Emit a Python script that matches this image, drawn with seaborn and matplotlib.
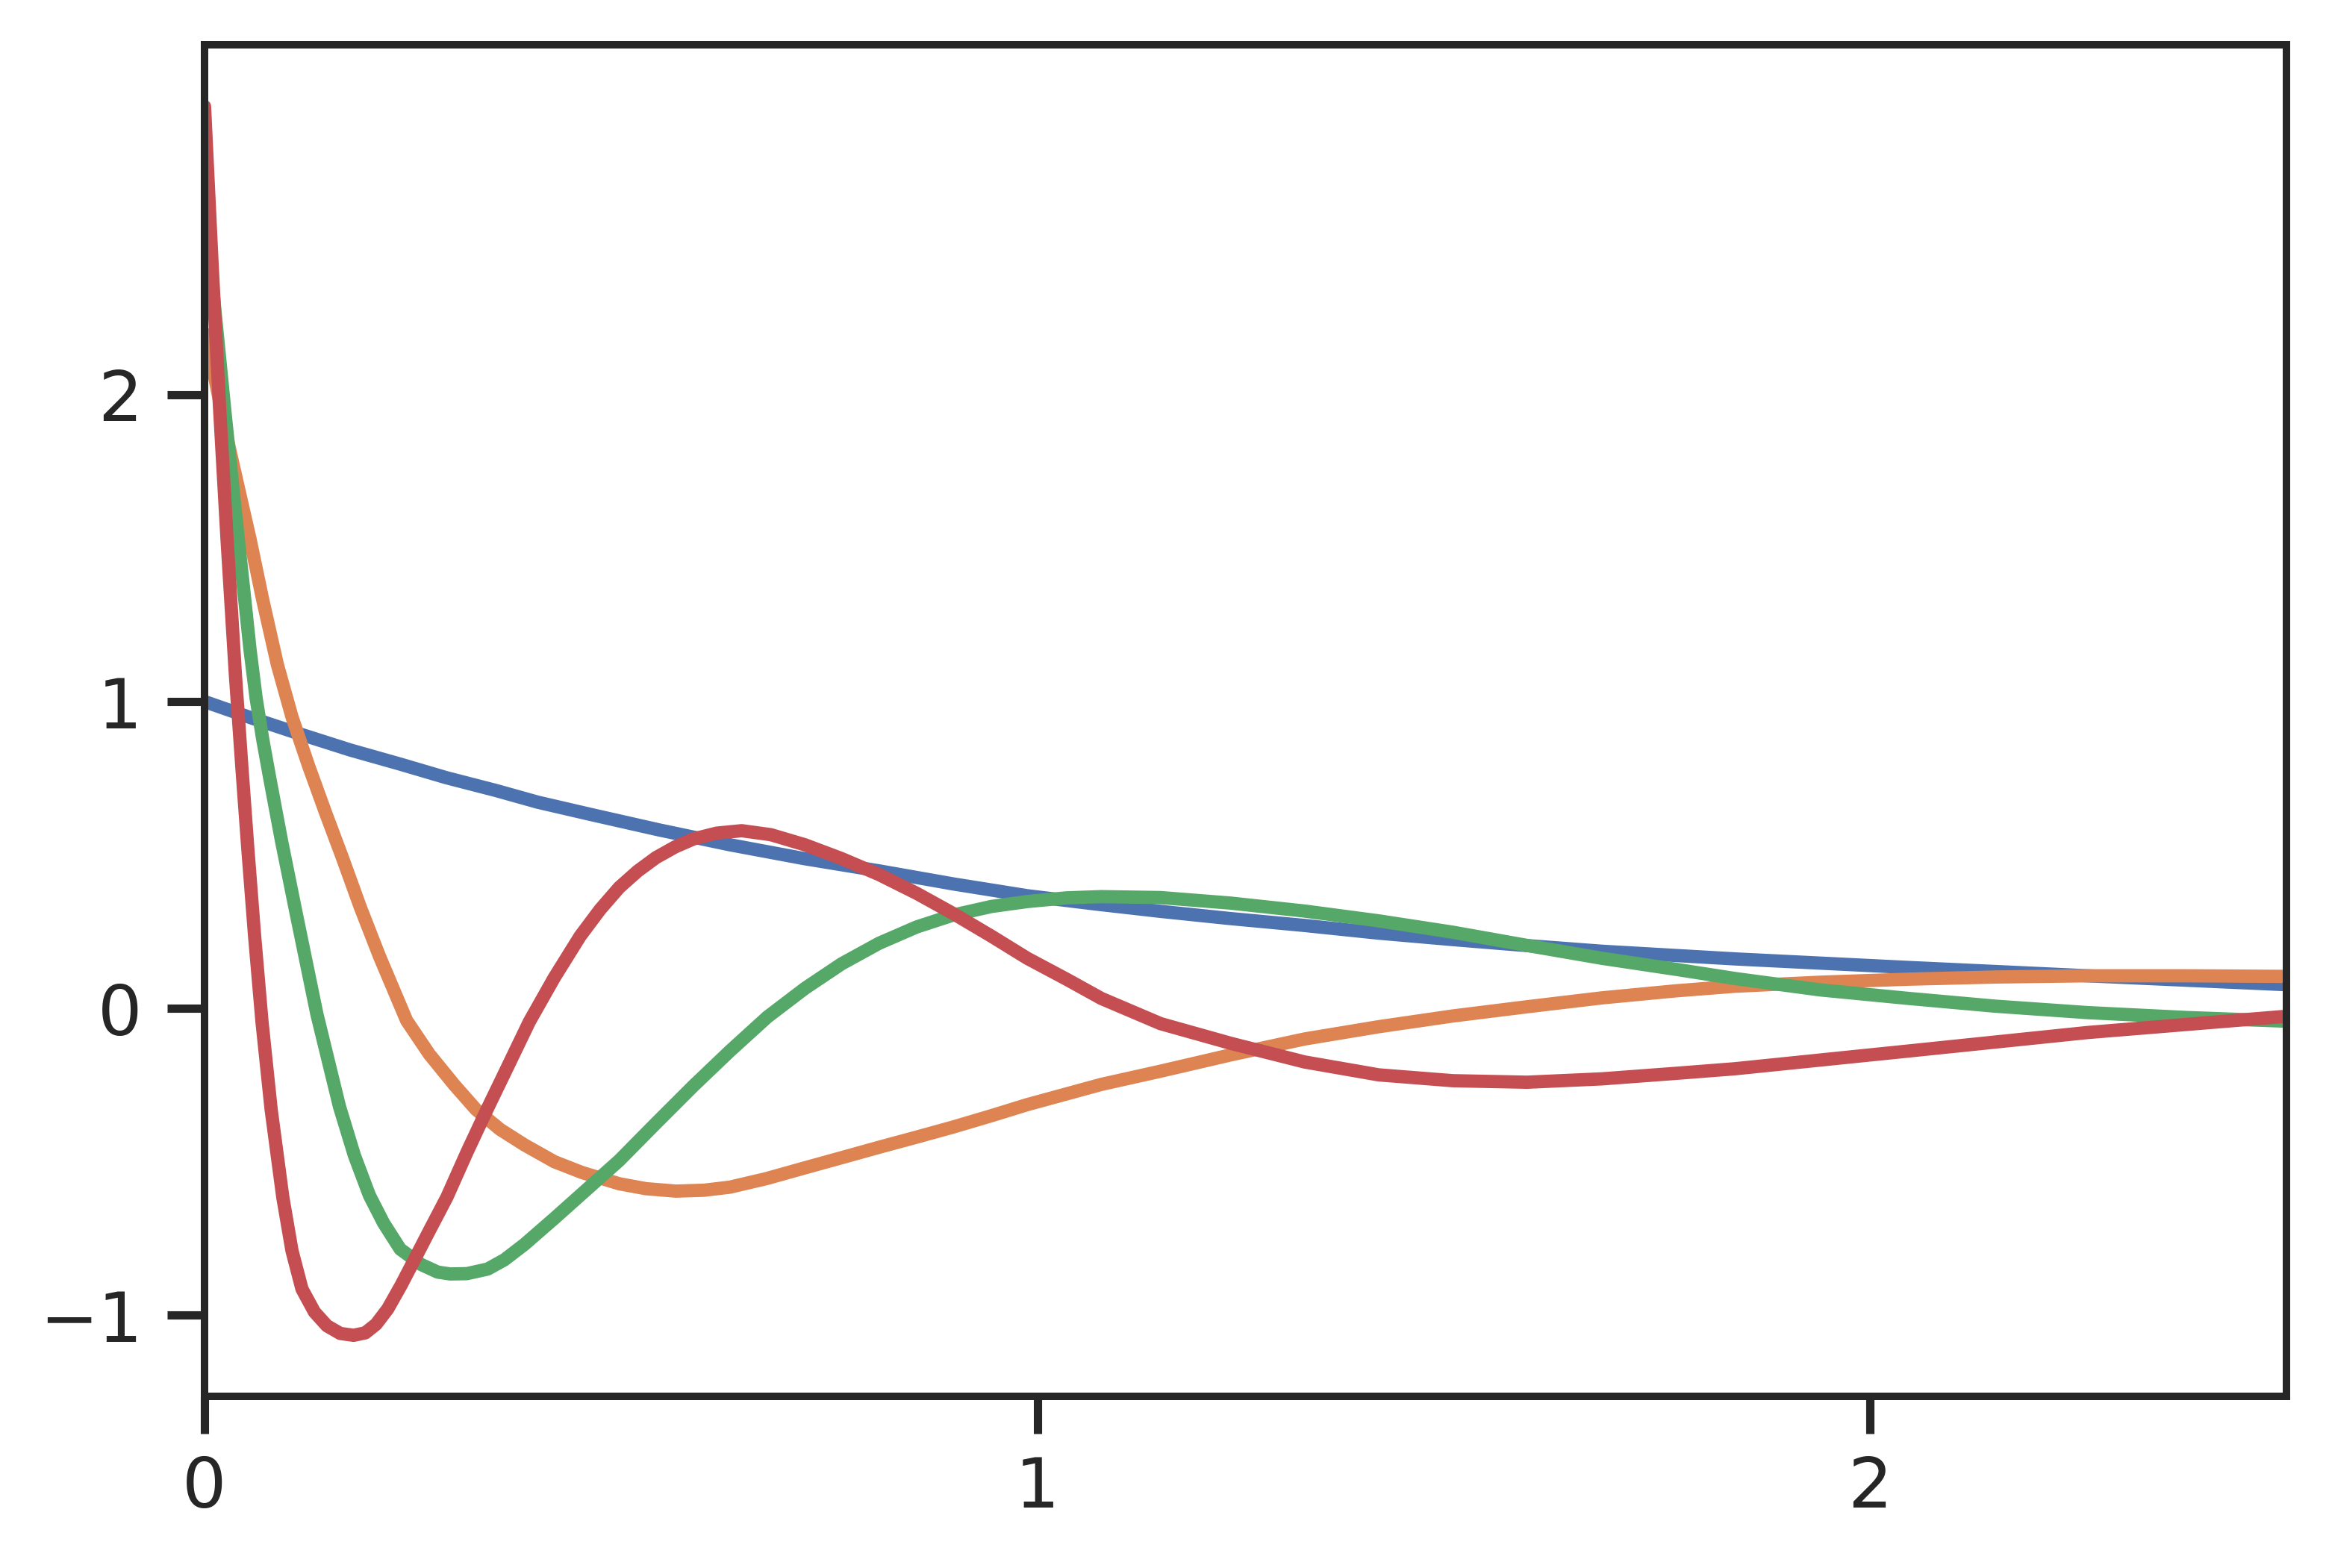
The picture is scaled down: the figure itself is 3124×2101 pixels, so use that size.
import numpy as np
import matplotlib
matplotlib.use("Agg")
import matplotlib.pyplot as plt
import seaborn as sns

# values
blue_x = [0, 0.058, 0.116, 0.175, 0.235, 0.29, 0.35, 0.40, 0.462, 0.545, 0.631, 0.72, 0.810, 0.9,
          0.988, 1.07, 1.148, 1.23, 1.321, 1.41, 1.499, 1.59, 1.678, 1.838, 2.047, 2.261, 2.5]
blue_y = [1.0, 0.945, 0.893, 0.842, 0.796, 0.752, 0.71, 0.672, 0.633, 0.582, 0.533, 0.488, 0.448, 0.405,
          0.367, 0.34, 0.316, 0.293, 0.27, 0.245, 0.224, 0.204, 0.186, 0.161, 0.133, 0.106, 0.077]

orange_x = [0, 0.012, 0.027, 0.042, 0.0546, 0.07, 0.0875, 0.105, 0.125, 0.145, 0.1657, 0.187, 0.21,
            0.2427, 0.27, 0.30, 0.326, 0.355, 0.384, 0.42, 0.453, 0.498, 0.53, 0.566, 0.60, 0.631,
            0.675, 0.721, 0.765, 0.810, 0.855, 0.899, 0.945, 0.988, 1.077, 1.148, 1.232, 1.321, 1.41,
            1.499, 1.588, 1.678, 1.767, 1.838, 1.94, 2.047, 2.15, 2.261, 2.38, 2.5]
orange_y = [2.2, 2.06, 1.86, 1.68, 1.53, 1.33, 1.12, 0.95, 0.79, 0.64, 0.49, 0.33, 0.17,
            -0.04, -0.15, -0.25, -0.33, -0.395, -0.445, -0.50, -0.535, -0.572, -0.588, -0.596, -0.593, -0.583,
            -0.555, -0.52, -0.487, -0.453, -0.42, -0.387, -0.35, -0.314, -0.248, -0.205, -0.152, -0.100, -0.06,
            -0.025, 0.005, 0.034, 0.057, 0.072, 0.085, 0.095, 0.102, 0.106, 0.106, 0.104]

green_x = [0, 0.013, 0.025, 0.0405, 0.048, 0.0546, 0.062, 0.07, 0.078, 0.0925, 0.11, 0.135, 0.162, 0.18,
           0.198, 0.215, 0.235, 0.26, 0.28, 0.295, 0.315, 0.34, 0.36, 0.384, 0.42, 0.453, 0.498, 0.542,
           0.587, 0.631, 0.676, 0.721, 0.765, 0.810, 0.855, 0.899, 0.945, 0.988, 1.035, 1.077, 1.148,
           1.232, 1.321, 1.41, 1.499, 1.588, 1.678, 1.767, 1.838, 1.94, 2.047, 2.15, 2.261, 2.38, 2.5]
green_y = [2.62, 2.26, 1.93, 1.53, 1.34, 1.17, 1.01, 0.875, 0.755, 0.545, 0.31, -0.02, -0.32, -0.48,
           -0.61, -0.70, -0.785, -0.835, -0.86, -0.866, -0.865, -0.85, -0.82, -0.77, -0.685, -0.605, -0.496, -0.375,
           -0.253, -0.139, -0.028, 0.065, 0.145, 0.212, 0.265, 0.304, 0.332, 0.348, 0.36, 0.364, 0.361,
           0.343, 0.317, 0.285, 0.248, 0.205, 0.163, 0.127, 0.097, 0.06, 0.032, 0.007, -0.014, -0.03, -0.042]

red_x = [0, 0.009, 0.018, 0.027, 0.037, 0.045, 0.052, 0.06, 0.069, 0.08, 0.094, 0.105, 0.117, 0.132,
         0.147, 0.163, 0.179, 0.193, 0.206, 0.22, 0.236, 0.25, 0.27, 0.291, 0.315, 0.339, 0.365, 0.390,
         0.42, 0.451, 0.475, 0.498, 0.52, 0.542, 0.565, 0.587, 0.615, 0.645, 0.68, 0.721, 0.765, 0.810,
         0.855, 0.899, 0.945, 0.988, 1.035, 1.077, 1.148, 1.232, 1.321, 1.410, 1.499, 1.588, 1.678,
         1.767, 1.838, 2.047, 2.261, 2.5]
red_y = [2.94, 2.43, 1.96, 1.53, 1.09, 0.78, 0.52, 0.24, -0.044, -0.33, -0.616, -0.79, -0.915, -0.99,
         -1.035, -1.06, -1.066, -1.058, -1.03, -0.98, -0.903, -0.83, -0.725, -0.616, -0.47, -0.331, -0.185, -0.044,
         0.10, 0.235, 0.322, 0.394, 0.447, 0.491, 0.526, 0.552, 0.571, 0.579, 0.566, 0.533, 0.488, 0.436,
         0.375, 0.309, 0.235, 0.163, 0.095, 0.032, -0.05, -0.114, -0.175, -0.217, -0.236, -0.241, -0.23,
         -0.212, -0.197, -0.139, -0.079, -0.026]

x_ticks = [0, 1, 2]
y_ticks = [-1, 0, 1, 2]

sns.set_theme(style="ticks")
pal = sns.color_palette("deep")
dpi = 200
ink = "#262626"
plt.rcParams.update({
    "axes.edgecolor": ink,
    "axes.linewidth": 3.6,
    "xtick.color": ink,
    "ytick.color": ink,
    "xtick.major.size": 18,
    "ytick.major.size": 18,
    "xtick.major.width": 4,
    "ytick.major.width": 4,
    "xtick.labelsize": 33.6,
    "ytick.labelsize": 33.6,
})
plt.rcParams["font.family"] = ["DejaVu Sans"]

fig = plt.figure(figsize=(3124 / dpi, 2101 / dpi), dpi=dpi)
ax = fig.add_axes([274 / 3124, 1 - 1871 / 2101, (3063 - 274) / 3124, (1871 - 60) / 2101])

lw = 6.4
series = [(blue_x, blue_y, pal[0]), (orange_x, orange_y, pal[1]),
          (green_x, green_y, pal[2]), (red_x, red_y, pal[3])]
for xs, ys, c in series:
    sns.lineplot(x=xs, y=ys, color=c, linewidth=lw, ax=ax, sort=False, estimator=None)
for ln in ax.get_lines():
    ln.set_solid_joinstyle("round")

ax.set_xlim(0, 2.5)
ax.set_ylim(-1.265, 3.141)
ax.set_xticks(x_ticks)
ax.set_yticks(y_ticks)
ax.tick_params(axis="x", pad=10)
ax.tick_params(axis="y", pad=12)
for s in ax.spines.values():
    s.set_visible(True)

fig.savefig("out.png", dpi=dpi)
